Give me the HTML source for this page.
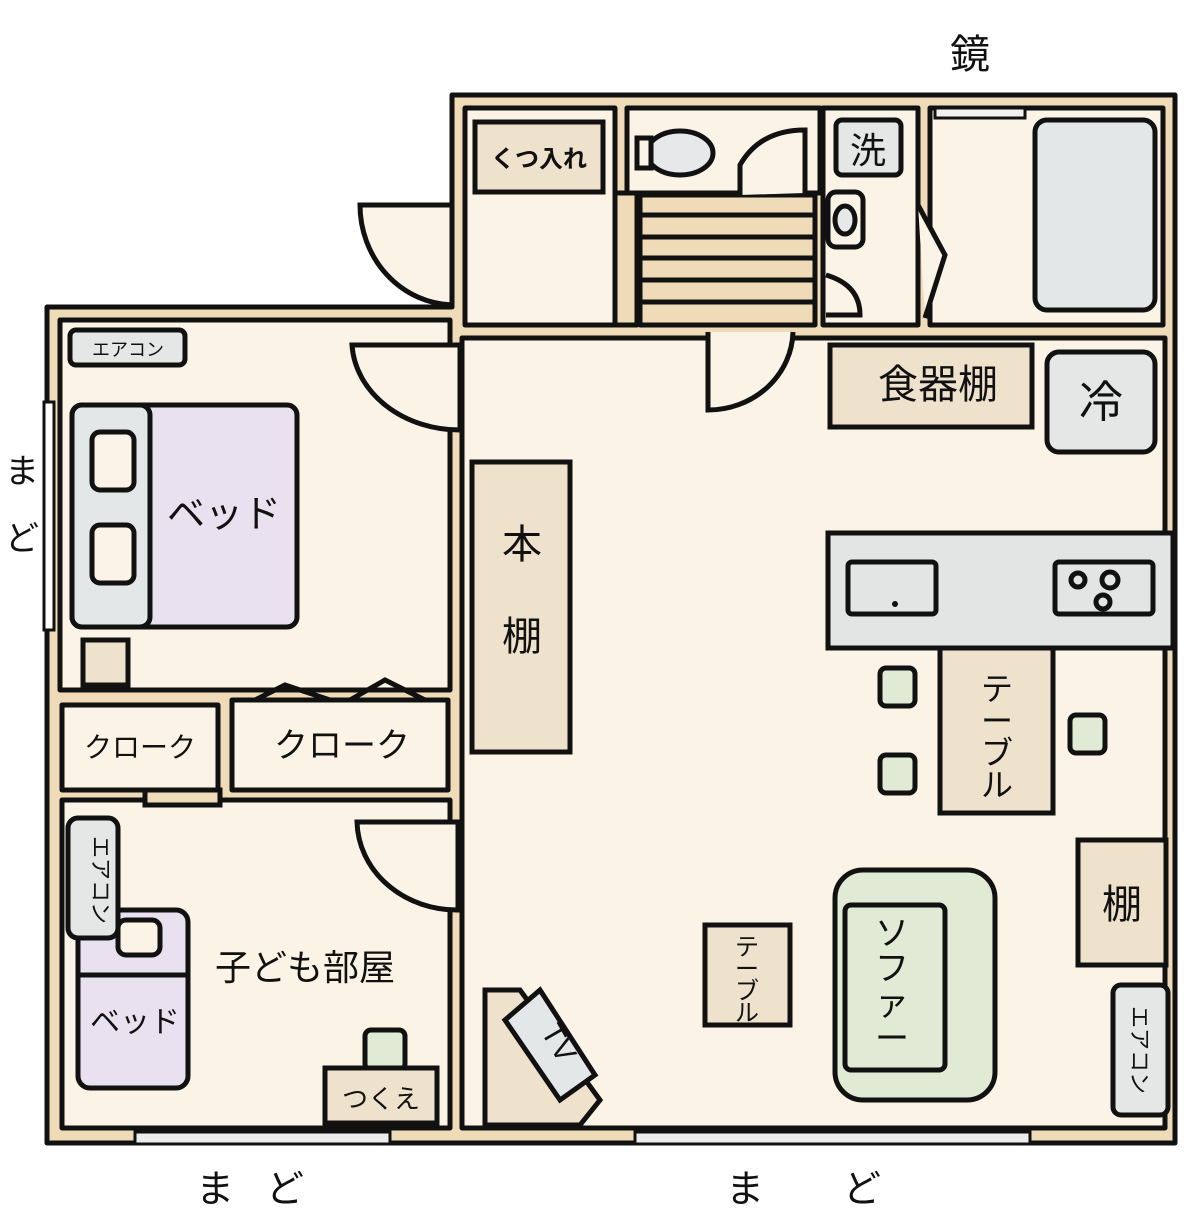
<!DOCTYPE html>
<html><head><meta charset="utf-8"><style>
html,body{margin:0;padding:0;background:#fff;}
svg{display:block;}
text{font-family:"Liberation Sans","Noto Sans CJK JP",sans-serif;fill:#111;}
</style></head><body>
<svg width="1200" height="1226" viewBox="0 0 1200 1226" xmlns="http://www.w3.org/2000/svg">
<g stroke="#111" stroke-width="5" stroke-linejoin="round" stroke-linecap="round">
<path d="M452,95 L1175,95 L1175,1143 L47,1143 L47,307 L452,307 Z" fill="#efdbb8"/>
<rect x="465" y="108" width="150" height="217" fill="#fbf4e6"/>
<rect x="627" y="108" width="193" height="85" fill="#fbf4e6"/>
<rect x="615" y="193" width="22" height="132" fill="#efdbb8"/>
<rect x="640" y="195" width="175" height="130" fill="#efdbb8"/>
<rect x="823" y="108" width="95" height="217" fill="#fbf4e6"/>
<rect x="930" y="108" width="233" height="217" fill="#fbf4e6"/>
<rect x="462" y="338" width="703" height="790" fill="#fbf4e6"/>
<rect x="60" y="320" width="390" height="370" fill="#fbf4e6"/>
<rect x="62" y="705" width="156" height="85" fill="#fbf4e6"/>
<rect x="232" y="700" width="216" height="90" fill="#fbf4e6"/>
<rect x="62" y="800" width="388" height="328" fill="#fbf4e6"/>
</g>
<g stroke="#111" stroke-width="5">
<line x1="640" y1="215" x2="815" y2="215"/><line x1="640" y1="237" x2="815" y2="237"/>
<line x1="640" y1="258" x2="815" y2="258"/><line x1="640" y1="280" x2="815" y2="280"/>
<line x1="640" y1="302" x2="815" y2="302"/>
</g>
<g fill="#f2f2f2" stroke="#111" stroke-width="3">
<rect x="44" y="402" width="10" height="228" fill="#fff"/>
<rect x="135" y="1132" width="255" height="12" fill="#ececec"/>
<rect x="635" y="1132" width="395" height="12" fill="#ececec"/>
<rect x="935" y="108" width="90" height="10"/>
</g>
<g stroke="#111" stroke-width="5" fill="#fbf4e6">
<path d="M352,345 L460,345 L460,430 A108,90 0 0 1 352,345 Z"/>
<path d="M357,822 L458,822 L458,910 A100,90 0 0 1 357,822 Z"/>
<path d="M708,332 L708,410 A85,80 0 0 0 793,332"/>
<path d="M360,205 L452,205 L452,305 A95,100 0 0 1 360,205 Z"/>
<path d="M740,195 L740,165 Q760,130 805,130 L805,193"/>
<path d="M918,205 L945,255 L925,318"/>
<path d="M826,275 Q860,285 860,315 L826,315"/>
</g>
<g stroke="#111" stroke-width="5">
<rect x="475" y="122" width="128" height="70" fill="#efe2cd"/>
<ellipse cx="680" cy="153" rx="33" ry="22" fill="#e6e8ea"/>
<rect x="637" y="138" width="14" height="30" fill="#fbf4e6"/>
<rect x="836" y="120" width="65" height="55" rx="6" fill="#e4e7e6"/>
<rect x="828" y="192" width="35" height="55" rx="8" fill="#fbf4e6"/>
<ellipse cx="845" cy="220" rx="10" ry="14" fill="#e6e8ea"/>
<rect x="1035" y="120" width="120" height="190" rx="12" fill="#e4e7e8"/>
<rect x="70" y="330" width="115" height="35" rx="6" fill="#e4e7e6"/>
<rect x="72" y="405" width="225" height="222" rx="10" fill="#e9e1ef"/>
<rect x="72" y="405" width="78" height="222" rx="10" fill="#e4e7e8"/>
<rect x="92" y="432" width="42" height="58" rx="8" fill="#fbf4e6"/>
<rect x="92" y="525" width="42" height="58" rx="8" fill="#fbf4e6"/>
<rect x="83" y="640" width="45" height="45" fill="#efe2cd"/>
<path d="M255,700 L285,685 L330,700 M350,700 L385,680 L425,700" fill="none"/>
<rect x="145" y="790" width="75" height="15" fill="#efdbb8"/>
<rect x="78" y="910" width="110" height="178" rx="12" fill="#e9e1ef"/>
<path d="M78,975 L188,975" fill="none"/>
<rect x="118" y="920" width="42" height="35" rx="8" fill="#fbf4e6"/>
<rect x="68" y="818" width="50" height="120" rx="10" fill="#e4e7e6"/>
<rect x="365" y="1030" width="40" height="40" rx="6" fill="#e0ead5"/>
<rect x="325" y="1068" width="112" height="55" fill="#efe2cd"/>
<rect x="472" y="462" width="98" height="290" fill="#efe2cd"/>
<rect x="830" y="345" width="202" height="82" fill="#efe2cd"/>
<rect x="1047" y="352" width="108" height="100" rx="12" fill="#e4e7e6"/>
<rect x="828" y="533" width="345" height="115" fill="#e2e5e3"/>
<rect x="848" y="562" width="88" height="52" rx="4" fill="#e2e5e3"/>
<rect x="1055" y="562" width="98" height="52" rx="4" fill="#e2e5e3"/>
<circle cx="1078" cy="580" r="7" fill="none"/><circle cx="1110" cy="580" r="8" fill="none"/><circle cx="1103" cy="602" r="7" fill="none"/>
<rect x="940" y="648" width="113" height="165" fill="#efe2cd"/>
<rect x="880" y="668" width="35" height="38" rx="6" fill="#e0ead5"/>
<rect x="880" y="755" width="35" height="38" rx="6" fill="#e0ead5"/>
<rect x="1070" y="715" width="35" height="38" rx="6" fill="#e0ead5"/>
<rect x="1078" y="840" width="88" height="125" fill="#efe2cd"/>
<rect x="1113" y="985" width="55" height="130" rx="8" fill="#e4e7e6"/>
<rect x="705" y="925" width="85" height="100" fill="#efe2cd"/>
<rect x="835" y="870" width="160" height="230" rx="28" fill="#e0ead5"/>
<rect x="845" y="905" width="100" height="165" rx="6" fill="#e0ead5"/>
<path d="M485,990 L520,990 L600,1100 L580,1125 L485,1125 Z" fill="#efe2cd"/>
<path d="M505,1020 L540,990 L595,1075 L560,1100 Z" fill="#e4e7e8"/>
</g>
<circle cx="895" cy="604" r="3" fill="#111"/>
<text x="970" y="68" font-size="40" text-anchor="middle">鏡</text>
<text x="539" y="167" font-size="24" text-anchor="middle" font-weight="bold">くつ入れ</text>
<text x="868" y="163" font-size="36" text-anchor="middle">洗</text>
<text x="938" y="398" font-size="40" text-anchor="middle">食器棚</text>
<text x="1101" y="417" font-size="44" text-anchor="middle">冷</text>
<text x="128" y="356" font-size="18" text-anchor="middle">エアコン</text>
<text x="224" y="527" font-size="38" text-anchor="middle">ベッド</text>
<text x="140" y="757" font-size="28" text-anchor="middle">クローク</text>
<text x="342" y="757" font-size="34" text-anchor="middle">クローク</text>
<text x="522" y="558" font-size="40" text-anchor="middle">本</text>
<text x="522" y="650" font-size="40" text-anchor="middle">棚</text>
<text x="22" y="483" font-size="34" text-anchor="middle">ま</text>
<text x="22" y="550" font-size="34" text-anchor="middle">ど</text>
<text x="305" y="980" font-size="36" text-anchor="middle">子ども部屋</text>
<text x="135" y="1032" font-size="30" text-anchor="middle">ベッド</text>
<text x="381" y="1108" font-size="26" text-anchor="middle">つくえ</text>
<text x="1122" y="918" font-size="40" text-anchor="middle">棚</text>
<g font-size="32" text-anchor="middle">
<text x="997" y="700">テ</text><text x="997" y="732">ー</text><text x="997" y="764">ブ</text><text x="997" y="796">ル</text>
</g>
<g font-size="24" text-anchor="middle">
<text x="747" y="955">テ</text><text x="747" y="977">ー</text><text x="747" y="999">ブ</text><text x="747" y="1021">ル</text>
</g>
<g font-size="34" text-anchor="middle">
<text x="892" y="945">ソ</text><text x="892" y="980">フ</text><text x="892" y="1015">ァ</text><text x="892" y="1050">ー</text>
</g>
<text transform="translate(93,880) rotate(90)" font-size="22" text-anchor="middle">エアコン</text>
<text transform="translate(1132,1050) rotate(90)" font-size="22" text-anchor="middle">エアコン</text>
<text transform="translate(550,1048) rotate(60)" font-size="30" text-anchor="middle">TV</text>
<text x="215" y="1202" font-size="38" text-anchor="middle">ま</text>
<text x="285" y="1202" font-size="38" text-anchor="middle">ど</text>
<text x="745" y="1202" font-size="38" text-anchor="middle">ま</text>
<text x="862" y="1202" font-size="38" text-anchor="middle">ど</text>
</svg>
</body></html>
